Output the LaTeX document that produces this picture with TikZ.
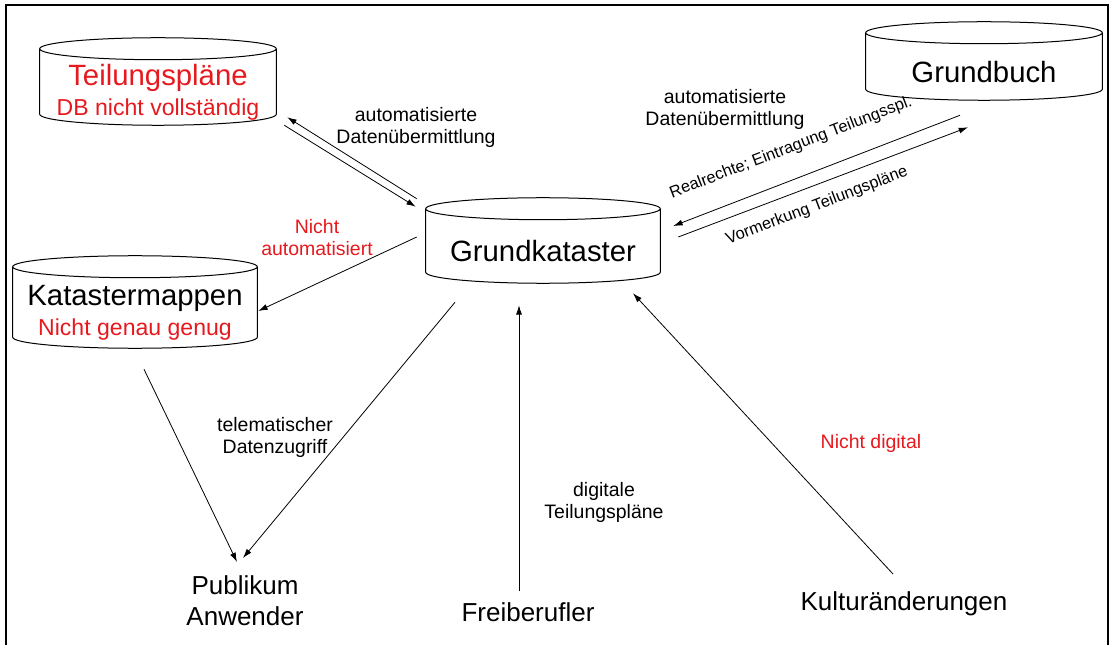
\documentclass[tikz,border=0pt]{standalone}
\usepackage{fontspec}
\setmainfont{Liberation Sans}
\usepackage{xcolor}
\definecolor{nred}{RGB}{230,25,30}
\newcommand{\fsz}[2]{\fontsize{#1}{#2}\selectfont}
\usepackage{tikz}
\usetikzlibrary{calc}
\usetikzlibrary{arrows.meta}

\begin{document}
\begin{tikzpicture}[x=0.75pt,y=-0.75pt,
  db/.style 2 args={minimum width=#1*0.75pt,minimum height=#2*0.75pt,inner sep=0pt,align=center},
  cyl/.style={line width=0.75pt},
  arr/.style={-{Latex[length=7pt,width=4.5pt]},line width=0.6pt},
  lbl/.style={align=center,font=\fsz{14.6}{16.5}},
  sml/.style={font=\fsz{12.3}{14},inner sep=1pt},
  bot/.style={align=center,font=\fsz{19.5}{23.25}}]
\useasboundingbox (0,0) rectangle (1110,645);
\draw[line width=1pt] (6,645) -- (6,5) -- (1108,5) -- (1108,645);

% data bases
\node[db={236}{65},text=nred,font=\fsz{17.3}{22.5}] (tp) at (158,92.5)
  {{\fsz{22}{22.5}Teilungspläne}\\DB nicht vollständig};
\node[db={236}{56},font=\fsz{22}{26}] (gb) at (984,72) {Grundbuch};
\node[db={234}{63},font=\fsz{22}{26}] (gk) at (543,251.5) {Grundkataster};
\node[db={244}{70},font=\fsz{17.3}{22.5}] (km) at (135,313)
  {{\fsz{22}{22.5}Katastermappen}\\\textcolor{nred}{Nicht genau genug}};
\foreach \nm in {tp,gb,gk,km}
  \draw[cyl] let \p1=($(\nm.east)-(\nm.west)$) in
    ([yshift=8.25pt]\nm.north) ellipse [x radius=0.5*\x1, y radius=8.25pt]
    ([yshift=8.25pt]\nm.north west) -- ([yshift=8.25pt]\nm.south west)
    arc [start angle=180, end angle=360, x radius=0.5*\x1, y radius=8.25pt]
    -- ([yshift=8.25pt]\nm.north east);

% users
\node[bot] (pub) at (245,601) {Publikum\\Anwender};
\node[bot] (frei) at (528,612) {Freiberufler};
\node[bot] (kult) at (904,604) {Kulturänderungen};

% flows
\draw[arr] ([shift={(-9,-21)}]gk.north west) -- ([shift={(11,-8)}]tp.south east);
\draw[arr] ([shift={(8,0)}]tp.south east) -- ([shift={(-10,-13)}]gk.north west);
\draw[arr] ([shift={(-9,-14.5)}]gk.west) -- ([shift={(1,-2)}]km.east);
\draw[arr] ([shift={(-24,15)}]gb.south) -- ([shift={(13,-25.5)}]gk.east);
\draw[arr] ([shift={(18,-14.5)}]gk.east) -- ([shift={(-16,27)}]gb.south);
\draw[arr] ([shift={(9,21)}]km.south) -- ([shift={(-8,-39)}]pub.center);
\draw[arr] ([shift={(-88,19)}]gk.south) -- ([shift={(-2,-43)}]pub.center);
\draw[arr] ([shift={(-9,-21)}]frei.center) -- ([shift={(-24,22)}]gk.south);
\draw[arr] ([shift={(-11,-30)}]kult.center) -- ([shift={(90,10)}]gk.south);

% labels
\node[lbl] (l1) at (416,127) {automatisierte\\Datenübermittlung};
\node[lbl] (l2) at (725,109) {automatisierte\\Datenübermittlung};
\node[lbl,text=nred] (l3) at (317,238) {Nicht\\automatisiert};
\node[lbl] (l4) at (275,437) {telematischer\\Datenzugriff};
\node[lbl] (l5) at (604,502) {digitale\\Teilungspläne};
\node[lbl,text=nred] (l6) at (871,443) {Nicht digital};
\node[sml,rotate=21] (l7) at (791,148) {Realrechte; Eintragung Teilungsspl.};
\node[sml,rotate=21] (l8) at (817,206) {Vormerkung Teilungspläne};
\end{tikzpicture}
\end{document}
